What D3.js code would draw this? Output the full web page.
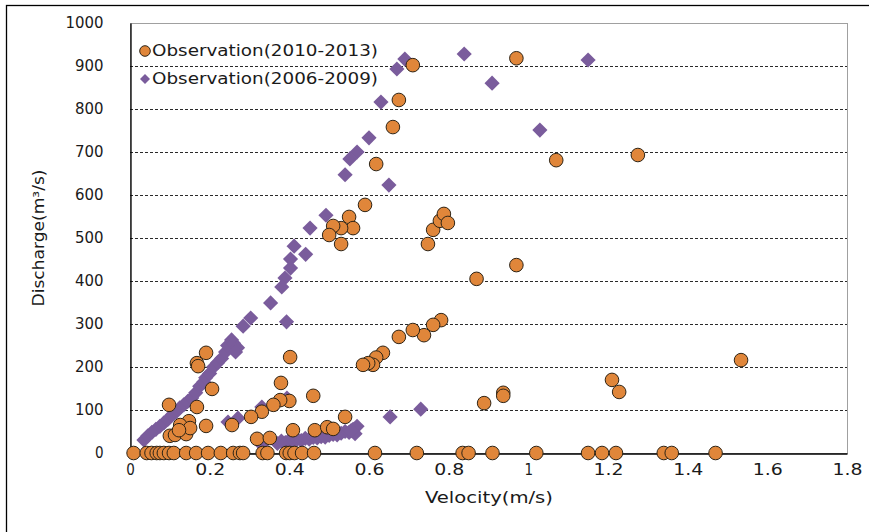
<!DOCTYPE html>
<html>
<head>
<meta charset="utf-8">
<script src="https://cdn.jsdelivr.net/npm/d3@7/dist/d3.min.js"></script>
<style>
  body { margin: 0; background: #fff; }
  text { font-family: "Liberation Sans Narrow", "DejaVu Sans Condensed", "Liberation Sans", sans-serif; fill: #1a1a1a; }
</style>
</head>
<body>
<svg id="chart" width="869" height="532"></svg>
<script>
// Axis ticks
const velocityTicks = [0, 0.2, 0.4, 0.6, 0.8, 1, 1.2, 1.4, 1.6, 1.8];
const velocityTickLabels = ["0", "0.2", "0.4", "0.6", "0.8", "1", "1.2", "1.4", "1.6", "1.8"];
const dischargeTicks = [0, 100, 200, 300, 400, 500, 600, 700, 800, 900, 1000];
const dischargeTickLabels = ["0", "100", "200", "300", "400", "500", "600", "700", "800", "900", "1000"];

// Series names
const seriesNames = ["Observation(2010-2013)", "Observation(2006-2009)"];

// Observation 2010-2013: velocity (m/s) and discharge (m3/s)
const obs2010Velocity = [
  0.71, 0.97, 0.675, 0.66, 0.618, 1.07, 1.275, 0.59, 0.55, 0.56, 0.53, 0.51, 0.50, 0.53,
  0.748, 0.761, 0.778, 0.788, 0.798, 0.87, 0.97,
  0.781, 0.761, 0.738, 0.71, 0.675, 0.635, 0.618, 0.61, 0.598, 0.585,
  1.534, 1.21, 1.228, 0.937, 0.937, 0.889, 0.54,
  0.191, 0.168, 0.171, 0.402, 0.206, 0.379, 0.46, 0.40, 0.377, 0.36, 0.331, 0.304, 0.256,
  0.098, 0.168, 0.148, 0.126, 0.100, 0.113, 0.141, 0.151, 0.123, 0.191,
  0.319, 0.351, 0.409, 0.464, 0.495, 0.51,
  0.009, 0.042, 0.054, 0.067, 0.075, 0.085, 0.098, 0.11, 0.141, 0.166, 0.196, 0.228,
  0.259, 0.276, 0.284, 0.333, 0.345, 0.392, 0.401, 0.413, 0.432, 0.462, 0.615, 0.72,
  0.835, 0.85, 0.91, 1.02, 1.15, 1.185, 1.22, 1.34, 1.36, 1.47
];
const obs2010Discharge = [
  902, 918, 821, 758, 672, 681, 693, 577, 549, 523, 523, 528, 507, 486,
  486, 519, 540, 556, 535, 405, 437,
  309, 298, 274, 286, 270, 233, 222, 205, 209, 205,
  216, 170, 142, 140, 133, 116, 84,
  233, 209, 202, 223, 149, 163, 133, 121, 123, 112, 96, 84, 65,
  112, 107, 74, 65, 40, 42, 44, 58, 53, 63,
  33, 35, 53, 53, 60, 56,
  0, 0, 0, 0, 0, 0, 0, 0, 0, 0, 0, 0,
  0, 0, 0, 0, 0, 0, 0, 0, 0, 0, 0, 0,
  0, 0, 0, 0, 0, 0, 0, 0, 0, 0
];

// Observation 2006-2009: velocity (m/s) and discharge (m3/s)
const obs2006Velocity = [
  0.69, 0.67, 0.63, 0.60, 0.57, 0.552, 0.54, 0.65, 0.839, 0.909, 1.029, 1.15,
  0.492, 0.452, 0.441, 0.412, 0.403, 0.403, 0.389, 0.381, 0.353, 0.393, 0.303, 0.284, 0.255,
  0.035, 0.045, 0.055, 0.065, 0.075, 0.085, 0.095, 0.105, 0.115, 0.125, 0.135, 0.145, 0.155,
  0.165, 0.175, 0.185, 0.19, 0.2, 0.21, 0.22, 0.23, 0.24, 0.245, 0.26, 0.27, 0.265,
  0.246, 0.271, 0.331, 0.394, 0.331, 0.653, 0.73,
  0.37, 0.38, 0.39, 0.40, 0.41, 0.42, 0.43, 0.44, 0.45, 0.46, 0.47, 0.48, 0.49, 0.50,
  0.51, 0.52, 0.53, 0.54, 0.55, 0.56, 0.57, 0.565, 0.555
];
const obs2006Discharge = [
  916, 893, 816, 733, 700, 684, 647, 623, 928, 860, 751, 914,
  553, 523, 462, 481, 451, 430, 407, 386, 349, 305, 314, 295, 263,
  30, 40, 48, 55, 62, 70, 78, 88, 95, 105, 112, 120, 128,
  140, 155, 165, 175, 185, 200, 210, 220, 235, 250, 255, 245, 235,
  72, 81, 107, 128, 19, 84, 102,
  22, 28, 24, 30, 27, 32, 29, 34, 32, 36, 35, 38, 37, 41,
  43, 42, 46, 50, 48, 55, 62, 45, 52
];

const svg = d3.select("#chart");
const W = 869, H = 532;
const plot = { left: 130, right: 847, top: 23, bottom: 453 };

const x = d3.scaleLinear().domain([0, 1.8]).range([plot.left, plot.right]);
const y = d3.scaleLinear().domain([0, 1000]).range([plot.bottom, plot.top]);

// Outer frame
svg.append("rect")
  .attr("x", 6.5).attr("y", 5.5)
  .attr("width", W + 10).attr("height", H - 4)
  .attr("fill", "none").attr("stroke", "#000").attr("stroke-width", 1.3);

// Plot area border (light gray)
svg.append("rect")
  .attr("x", plot.left + 0.5).attr("y", plot.top + 0.5)
  .attr("width", plot.right - plot.left).attr("height", plot.bottom - plot.top)
  .attr("fill", "none").attr("stroke", "#a0a0a0").attr("stroke-width", 1);

// Dashed horizontal gridlines
svg.append("g")
  .selectAll("line")
  .data(dischargeTicks.filter(d => d > 0 && d < 1000))
  .join("line")
  .attr("x1", plot.left).attr("x2", plot.right)
  .attr("y1", d => Math.round(y(d)) + 0.5).attr("y2", d => Math.round(y(d)) + 0.5)
  .attr("stroke", "#2a2a2a").attr("stroke-width", 1)
  .attr("stroke-dasharray", "3,2");

// Y axis
const yAxis = d3.axisLeft(y)
  .tickValues(dischargeTicks)
  .tickSize(0)
  .tickPadding(27)
  .tickFormat((d, i) => dischargeTickLabels[i]);
const gy = svg.append("g").attr("transform", `translate(${plot.left + 0.5},0)`).call(yAxis);
gy.select(".domain").attr("stroke", "#000").attr("stroke-width", 1.3);
gy.selectAll(".tick text")
  .attr("font-size", 15)
  .attr("fill", "#1a1a1a")
  .each(function(d, i) {
    const n = dischargeTickLabels[i].length;
    if (n > 1) d3.select(this).attr("textLength", n * 9.5).attr("lengthAdjust", "spacingAndGlyphs");
  });

// X axis
const xAxis = d3.axisBottom(x)
  .tickValues(velocityTicks)
  .tickSize(0)
  .tickPadding(11)
  .tickFormat((d, i) => velocityTickLabels[i]);
const gx = svg.append("g").attr("transform", `translate(0,${plot.bottom + 0.5})`).call(xAxis);
gx.select(".domain").attr("stroke", "#000").attr("stroke-width", 1.3);
gx.selectAll(".tick text")
  .attr("font-size", 15)
  .attr("fill", "#1a1a1a")
  .each(function(d, i) {
    const n = velocityTickLabels[i].length;
    if (n > 1) d3.select(this).attr("textLength", n * 10).attr("lengthAdjust", "spacingAndGlyphs");
  });

// Axis titles
svg.append("text")
  .attr("x", (plot.left + plot.right) / 2 + 0.5)
  .attr("y", 503)
  .attr("text-anchor", "middle")
  .attr("font-size", 15)
  .attr("textLength", 128).attr("lengthAdjust", "spacingAndGlyphs")
  .text("Velocity(m/s)");

svg.append("text")
  .attr("transform", "translate(44,238) rotate(-90)")
  .attr("text-anchor", "middle")
  .attr("font-size", 15)
  .attr("textLength", 137).attr("lengthAdjust", "spacingAndGlyphs")
  .text("Discharge(m³/s)");

// Markers
const colorOrange = "#e0863a";
const colorPurple = "#7a5c9c";
const diamond = d3.symbol().type(d3.symbolSquare).size(115);

const old = obs2006Velocity.map((v, i) => ({ v, q: obs2006Discharge[i] }));
const recent = obs2010Velocity.map((v, i) => ({ v, q: obs2010Discharge[i] }));

svg.append("g")
  .selectAll("path")
  .data(old)
  .join("path")
  .attr("d", diamond())
  .attr("transform", d => `translate(${x(d.v)},${y(d.q)}) rotate(45)`)
  .attr("fill", colorPurple);

svg.append("g")
  .selectAll("circle")
  .data(recent)
  .join("circle")
  .attr("cx", d => x(d.v))
  .attr("cy", d => y(d.q))
  .attr("r", 6.8)
  .attr("fill", colorOrange)
  .attr("stroke", "#2e2416")
  .attr("stroke-width", 1);

// Legend
const legend = svg.append("g");
legend.append("circle")
  .attr("cx", 145).attr("cy", 51).attr("r", 5.3)
  .attr("fill", colorOrange).attr("stroke", "#2e2416").attr("stroke-width", 1);
legend.append("path")
  .attr("d", d3.symbol().type(d3.symbolSquare).size(50)())
  .attr("transform", "translate(145,79) rotate(45)")
  .attr("fill", colorPurple);
legend.selectAll("text")
  .data(seriesNames)
  .join("text")
  .attr("x", 152)
  .attr("y", (d, i) => 51 + i * 28)
  .attr("dy", "0.36em")
  .attr("font-size", 15)
  .attr("textLength", 226).attr("lengthAdjust", "spacingAndGlyphs")
  .text(d => d);
</script>
</body>
</html>
